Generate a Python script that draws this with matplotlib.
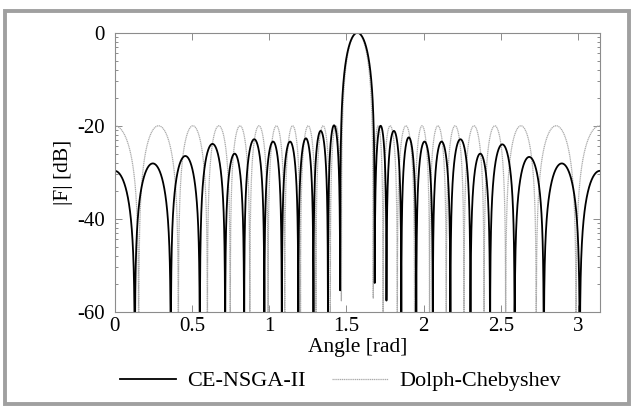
import numpy as np
import matplotlib
matplotlib.use('Agg')
import matplotlib.pyplot as plt
from matplotlib.lines import Line2D
from matplotlib.patches import Rectangle

plt.rcParams['font.family'] = ['Liberation Serif', 'DejaVu Serif']
plt.rcParams['axes.unicode_minus'] = False

# lobes: null angles [rad] (edge nulls mirrored past 0 and pi)
# and the peak level [dB] of each lobe between two neighbouring nulls
ce_nulls = [-0.130, 0.130, 0.363, 0.551, 0.715, 0.838, 0.969, 1.082, 1.189, 1.287,
            1.381, 1.460, 1.684, 1.760, 1.856, 1.953, 2.060, 2.174, 2.304, 2.431,
            2.590, 2.779, 3.012, 3.272]
ce_peaks = [-29.7, -28.1, -26.5, -23.9, -26.0, -22.9, -23.4, -23.4, -22.7, -21.1,
            -19.9, 0.0, -20.0, -21.1, -22.5, -23.4, -23.4, -22.9, -26.0, -24.0,
            -26.7, -28.1, -29.7]
ce_depths = [-90, -90, -90, -90, -90, -90, -90, -90, -90, -90,
             -90, -56, -54, -58, -90, -90, -90, -90, -90, -90,
             -90, -90, -90, -90]

dc_nulls = [-0.155, 0.155, 0.412, 0.600, 0.748, 0.875, 0.993, 1.101, 1.203, 1.303,
            1.396, 1.468, 1.674, 1.738, 1.830, 1.942, 2.039, 2.147, 2.262, 2.392,
            2.532, 2.730, 2.988, 3.297]
dc_peaks = [-20.0, -20.0, -20.0, -20.0, -20.0, -20.0, -20.0, -20.0, -20.0, -20.0,
            -20.0, 0.0, -20.0, -20.0, -20.0, -20.0, -20.0, -20.0, -20.0, -20.0,
            -20.0, -20.0, -20.0]
dc_depths = [-90] * len(dc_nulls)


def pattern(theta, nulls, peaks, depths):
    out = np.full_like(theta, -100.0)
    for i in range(len(peaks)):
        a, b = nulls[i], nulls[i + 1]
        m = (theta >= a) & (theta <= b)
        x = (theta[m] - a) / (b - a)
        fa = 10 ** ((depths[i] - peaks[i]) / 20)
        fb = 10 ** ((depths[i + 1] - peaks[i]) / 20)
        amp = np.sqrt(np.sin(np.pi * x) ** 2 + (fa * (1 - x)) ** 2 + (fb * x) ** 2)
        out[m] = peaks[i] + 20 * np.log10(amp)
    return out


theta = np.linspace(0, np.pi, 8000)
ce = pattern(theta, ce_nulls, ce_peaks, ce_depths)
dc = pattern(theta, dc_nulls, dc_peaks, dc_depths)

fig = plt.figure(figsize=(6.34, 4.12), dpi=100)
ax = fig.add_axes([0.181, 0.2434, 0.765, 0.677])

ax.plot(theta, dc, color='#ababab', lw=0.9, ls=(0, (1, 0.5)))
ax.plot(theta, ce, color='black', lw=1.3)

ax.set_xlim(0, np.pi)
ax.set_ylim(-60, 0)
ax.set_xticks([0, 0.5, 1, 1.5, 2, 2.5, 3])
ax.set_xticklabels(['0', '0.5', '1', '1.5', '2', '2.5', '3'])
ax.set_yticks([-60, -40, -20, 0])
ax.set_yticklabels(['-60', '-40', '-20', '0'])
minor = [m + 20 * np.log10(k) for m in (-60, -40, -20) for k in range(2, 10)]
ax.set_yticks(minor, minor=True)

for s in ax.spines.values():
    s.set_color('#8c8c8c')
    s.set_linewidth(0.8)
ax.tick_params(which='both', direction='in', top=True, right=True, color='#8c8c8c',
               labelsize=15, width=0.7)
ax.tick_params(which='major', length=5, pad=4)
ax.tick_params(which='minor', length=2.5)
ax.tick_params(axis='y', pad=7)

ax.set_xlabel('Angle [rad]', fontsize=15.5, labelpad=1)
ax.set_ylabel('|F| [dB]', fontsize=15.5, labelpad=3)

handles = [Line2D([], [], color='black', lw=1.3),
           Line2D([], [], color='#ababab', lw=0.9, ls=(0, (1, 0.5)))]
fig.legend(handles, ['CE-NSGA-II', 'Dolph-Chebyshev'], loc='center',
           bbox_to_anchor=(0.537, 1 - 381 / 412), ncol=2, frameon=False,
           fontsize=16, handlelength=2.5, columnspacing=1.2, handletextpad=0.5)

fig.add_artist(Rectangle((5.3 / 634, 1 - 404 / 412), 623.7 / 634, 393 / 412,
                         transform=fig.transFigure, fill=False,
                         edgecolor='#a0a0a0', lw=2.8))

fig.savefig('out.png', dpi=100)
